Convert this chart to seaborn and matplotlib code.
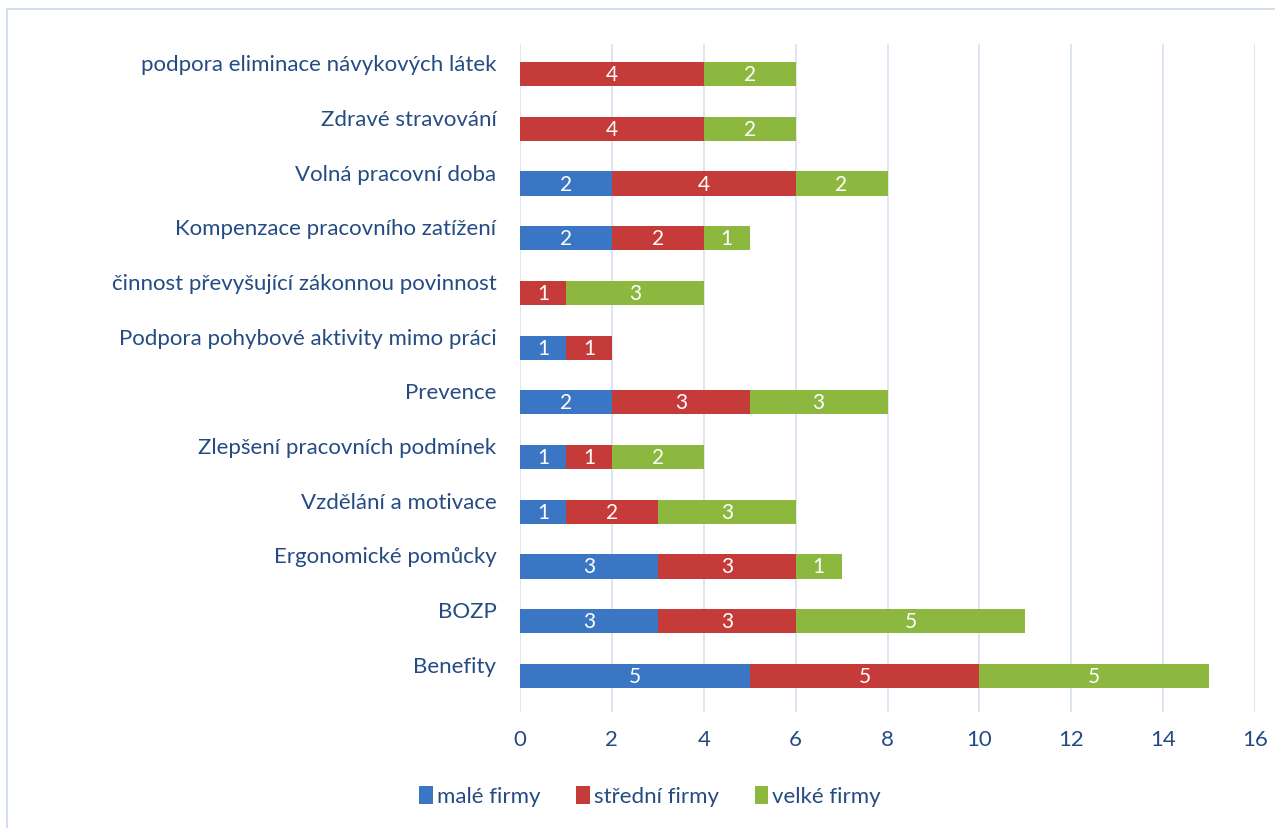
import numpy as np
import pandas as pd
import matplotlib
matplotlib.use("Agg")
import matplotlib.pyplot as plt
import matplotlib.transforms as mtransforms
from matplotlib.patches import Rectangle, Patch
import seaborn as sns

# =============================================================================
# Data (top to bottom, as in the reference)
# =============================================================================
categories = [
    "podpora eliminace návykových látek",
    "Zdravé stravování",
    "Volná pracovní doba",
    "Kompenzace pracovního zatížení",
    "činnost převyšující zákonnou povinnost",
    "Podpora pohybové aktivity mimo práci",
    "Prevence",
    "Zlepšení pracovních podmínek",
    "Vzdělání a motivace",
    "Ergonomické pomůcky",
    "BOZP",
    "Benefity",
]
male = [0, 0, 2, 2, 0, 1, 2, 1, 1, 3, 3, 5]
stredni = [4, 4, 4, 2, 1, 1, 3, 1, 2, 3, 3, 5]
velke = [2, 2, 2, 1, 3, 0, 3, 2, 3, 1, 5, 5]
series_names = ["malé firmy", "střední firmy", "velké firmy"]
xticks = [0, 2, 4, 6, 8, 10, 12, 14, 16]

colors = ["#3A76C4", "#C43B39", "#8CB83F"]
text_col = "#244B84"
grid_col = "#D6E0EE"

sns.set_theme(style="white")
plt.rcParams["font.family"] = ["Lato", "DejaVu Sans"]

df = pd.DataFrame({"kategorie": categories, "male": male,
                   "stredni": stredni, "velke": velke})
df["c1"] = df["male"]
df["c2"] = df["c1"] + df["stredni"]
df["c3"] = df["c2"] + df["velke"]

fig = plt.figure(figsize=(12.75, 8.29), dpi=100)
ax = fig.add_axes([520 / 1275, 1 - 713 / 829, (1255 - 520) / 1275, (713 - 45) / 829])

# stacked via cumulative totals drawn back to front
for col, c in zip(["c3", "c2", "c1"], colors[::-1]):
    sns.barplot(data=df, x=col, y="kategorie", color=c, orient="h",
                width=0.44, saturation=1, ax=ax, zorder=3,
                linewidth=0, order=categories)

# value labels in the middle of each segment
for i, row in df.iterrows():
    starts = [0, row["c1"], row["c2"]]
    vals = [row["male"], row["stredni"], row["velke"]]
    for s, v in zip(starts, vals):
        if v > 0:
            ax.text(s + v / 2, i, str(v), ha="center", va="center",
                    color="white", fontsize=15, zorder=5)

ax.set_xlim(0, 16)
ax.set_ylim(11.66, -0.55)
ax.set_xticks(xticks)
ax.set_xlabel("")
ax.set_ylabel("")
ax.grid(axis="x", color=grid_col, linewidth=1.2, zorder=0)
ax.grid(axis="y", visible=False)
for sp in ax.spines.values():
    sp.set_visible(False)
ax.tick_params(axis="x", length=0, pad=12, labelsize=16, labelcolor=text_col)
ax.tick_params(axis="y", length=0, pad=17, labelsize=16, labelcolor=text_col)

# category labels sit a little above the bars
off = mtransforms.ScaledTranslation(0, 12 / 100, fig.dpi_scale_trans)
for lab in ax.get_yticklabels():
    lab.set_transform(lab.get_transform() + off)

handles = [Patch(facecolor=c, edgecolor="none") for c in colors]
fig.legend(handles, series_names, loc="center", bbox_to_anchor=(0.51, 1 - 797 / 829),
           ncol=3, frameon=False, fontsize=16, labelcolor=text_col,
           handlelength=0.6, handleheight=0.9, handletextpad=0.2, columnspacing=1.6)

# outer chart frame
fig.patches.append(Rectangle((7 / 1275, -0.01), 1.1, 1 - 10 / 829 + 0.01,
                             transform=fig.transFigure, fill=False,
                             edgecolor="#D3DFEE", linewidth=1.5))

fig.savefig("out.png", dpi=100)
